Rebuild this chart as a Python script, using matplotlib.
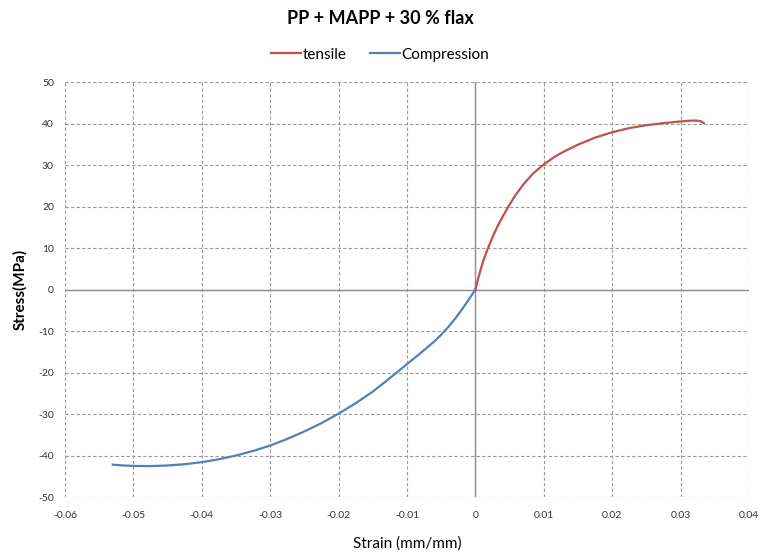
import matplotlib.pyplot as plt

plt.rcParams['font.family'] = ['Lato', 'DejaVu Sans']

# tensile curve (red)
tens_strain = [0, 0.0004, 0.0008, 0.0013, 0.00185, 0.0025, 0.0032, 0.004, 0.0048, 0.0058,
               0.007, 0.0084, 0.0099, 0.0115, 0.013, 0.015, 0.0175, 0.02, 0.0225,
               0.025, 0.0275, 0.03, 0.0315, 0.0325, 0.033, 0.0334]
tens_stress = [0, 2.6, 5.0, 7.6, 10, 12.6, 15.1, 17.6, 19.9, 22.6,
               25.3, 27.9, 30, 31.9, 33.3, 34.9, 36.6, 37.9, 38.9,
               39.6, 40.1, 40.5, 40.7, 40.7, 40.5, 40.1]

# compression curve (blue)
comp_strain = [0, -0.001, -0.002, -0.003, -0.004, -0.005, -0.006, -0.007,
               -0.008, -0.0092, -0.0104, -0.0115, -0.013, -0.015, -0.0175, -0.02,
               -0.0225, -0.025, -0.0275, -0.03, -0.0325, -0.035, -0.0375, -0.04,
               -0.0425, -0.045, -0.0475, -0.05, -0.0515, -0.053]
comp_stress = [0, -2.5, -4.9, -7.1, -9.1, -10.9, -12.5, -13.9,
               -15.3, -16.9, -18.5, -20, -22.0, -24.6, -27.4, -29.9,
               -32.2, -34.2, -36.0, -37.6, -38.9, -40.0, -40.9, -41.6,
               -42.1, -42.4, -42.55, -42.5, -42.4, -42.2]

xticks = [-0.06, -0.05, -0.04, -0.03, -0.02, -0.01, 0, 0.01, 0.02, 0.03, 0.04]
yticks = [-50, -40, -30, -20, -10, 0, 10, 20, 30, 40, 50]

fig = plt.figure(figsize=(7.6, 5.52), dpi=100)
ax = fig.add_axes([0.0855, 0.0996, 0.90, 0.7518])

ax.plot(tens_strain, tens_stress, color='#C0504D', lw=1.6, label='tensile', zorder=3)
ax.plot(comp_strain, comp_stress, color='#4F81BD', lw=1.6, label='Compression', zorder=3)

ax.set_xlim(-0.06, 0.04)
ax.set_ylim(-50, 50)
ax.set_xticks(xticks)
ax.set_yticks(yticks)
ax.set_xticklabels([f'{t:g}' for t in xticks])
ax.set_yticklabels([f'{t:g}' for t in yticks])
ax.tick_params(length=0, labelsize=7.5, colors='#333333')
ax.tick_params(axis='x', pad=10)
ax.tick_params(axis='y', pad=8)
ax.grid(True, ls=(0, (3, 2)), color='#9a9a9a', lw=0.8)
for s in ax.spines.values():
    s.set_visible(False)
ax.axhline(0, color='#8c8c8c', lw=1, zorder=2)
ax.axvline(0, color='#8c8c8c', lw=1, zorder=2)

ax.set_xlabel('Strain (mm/mm)', fontsize=11, labelpad=12)
ax.set_ylabel('Stress(MPa)', fontsize=11, fontweight='bold', labelpad=8)

fig.text(0.5, 0.967, 'PP + MAPP + 30 % flax', ha='center', va='center',
         fontsize=13, fontweight='bold')
fig.legend(loc='center', bbox_to_anchor=(0.5, 0.901), ncol=2, frameon=False,
           fontsize=11, handlelength=2, columnspacing=1.5, handletextpad=0.1)

fig.savefig('out.png', dpi=100)
